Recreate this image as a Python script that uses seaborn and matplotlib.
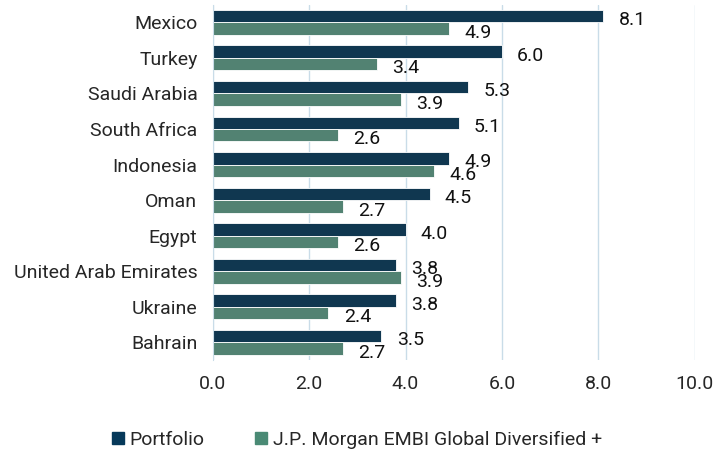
import matplotlib.pyplot as plt
import matplotlib.patches as mpatches
import pandas as pd
import seaborn as sns

countries = ['Mexico', 'Turkey', 'Saudi Arabia', 'South Africa', 'Indonesia',
             'Oman', 'Egypt', 'United Arab Emirates', 'Ukraine', 'Bahrain']
portfolio = [8.1, 6.0, 5.3, 5.1, 4.9, 4.5, 4.0, 3.8, 3.8, 3.5]
benchmark = [4.9, 3.4, 3.9, 2.6, 4.6, 2.7, 2.6, 3.9, 2.4, 2.7]
series_names = ['Portfolio', 'J.P. Morgan EMBI Global Diversified +']
x_ticks = [0, 2, 4, 6, 8, 10]

navy = '#06395a'
green = '#4a8a75'

df = pd.DataFrame({
    'country': countries * 2,
    'value': portfolio + benchmark,
    'series': [series_names[0]] * len(countries) + [series_names[1]] * len(countries),
})

sns.set_style('white')
plt.rcParams['font.family'] = ['Roboto', 'DejaVu Sans']

fig, ax = plt.subplots(figsize=(7.14, 4.53), dpi=100)
fig.subplots_adjust(left=0.298, right=0.973, top=0.99, bottom=0.205)

sns.barplot(data=df, y='country', x='value', hue='series', orient='h',
            palette=[navy, green], width=0.7, edgecolor='white', linewidth=0.6,
            ax=ax, legend=False)

# labels a bit right of the bar end and slightly below its centre
for cont in ax.containers:
    anns = ax.bar_label(cont, fmt='%.1f', padding=11, fontsize=14,
                        color='#111111')
    for a in anns:
        a.xyann = (11, -3)

ax.set_xlim(0, 10)
ax.set_xticks(x_ticks)
ax.set_xticklabels([f'{t:.1f}' for t in x_ticks], fontsize=14)
ax.tick_params(axis='x', pad=11, length=0)
ax.tick_params(axis='y', labelsize=14, length=0, pad=11)
ax.grid(axis='x', color='#c9dce8', linewidth=1)
ax.set_axisbelow(True)
for s in ['top', 'right', 'bottom']:
    ax.spines[s].set_visible(False)
ax.spines['left'].set_color('#c9dce8')
ax.set_xlabel('')
ax.set_ylabel('')

handles = [mpatches.Patch(color=navy, label=series_names[0]),
           mpatches.Patch(color=green, label=series_names[1])]
fig.legend(handles=handles, loc='lower center', ncol=2, frameon=False,
           fontsize=14, bbox_to_anchor=(0.5, -0.03), handlelength=0.6,
           handleheight=0.6, handletextpad=0.3, columnspacing=2.6)

fig.savefig('out.png', dpi=100)
